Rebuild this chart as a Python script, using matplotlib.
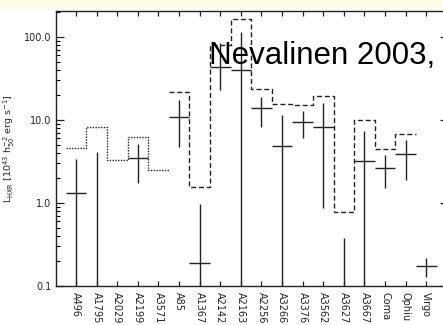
import numpy as np
import matplotlib
matplotlib.use('Agg')
import matplotlib.pyplot as plt
from matplotlib.patches import Rectangle
from matplotlib.ticker import FixedLocator, LogLocator, NullFormatter

# clusters along the x axis
clusters = ['A496', 'A1795', 'A2029', 'A2199', 'A3571', 'A85', 'A1367', 'A2142',
            'A2163', 'A2256', 'A3266', 'A3376', 'A3562', 'A3627', 'A3667',
            'Coma', 'Ophiu', 'Virgo']

# measured hard X-ray luminosity with upper / lower ends of the error bars
nan = np.nan
lum = [1.33, 0.05, nan, 3.46, nan, 10.8, 0.19, 43.9, 39.5, 13.8, 4.9, 9.5,
       8.2, 0.05, 3.2, 2.62, 3.86, 0.174]
lum_hi = [3.4, 4.15, nan, 5.14, nan, 17.4, 0.98, 85.0, 115.0, 19.0, 11.5, 12.9,
          15.9, 0.375, 7.3, 3.75, 5.74, 0.216]
lum_lo = [0.01, 0.01, nan, 1.76, nan, 4.69, 0.01, 23.0, 0.01, 8.3, 0.01, 6.0,
          0.88, 0.01, 0.01, 1.5, 1.87, 0.13]

# upper limits: dotted for the first five clusters, dashed for the rest
limit_dot = [4.6, 8.2, 3.3, 6.3, 2.5]
limit_dash = [21.9, 1.56, 80.0, 163.0, 23.5, 15.5, 15.2, 19.5, 0.78, 10.1, 4.47, 6.7]

fig = plt.figure(figsize=(4.43, 3.25), dpi=100)
fig.patches.append(Rectangle((0, 1 - 9 / 325), 1, 9 / 325, transform=fig.transFigure,
                             facecolor='#fcfce9', edgecolor='none', zorder=-10))
# the right-hand frame sits just past the edge of the figure
ax = fig.add_axes([55.5 / 443, 39 / 325, 393.0 / 443, 275 / 325])

ink = '#222222'
x = np.arange(len(clusters))

# step outlines of the upper limits
xd = np.arange(len(limit_dot) + 1) - 0.5
ax.step(xd, limit_dot + limit_dot[-1:], where='post', color=ink, lw=1.0,
        linestyle=(0, (1.0, 1.0)))
xs = np.arange(len(limit_dash) + 1) + len(limit_dot) - 0.5
ax.step(xs, limit_dash + limit_dash[-1:], where='post', color=ink, lw=1.0,
        linestyle=(0, (3.6, 2.0)))

# crosses
lum = np.array(lum)
yerr = np.vstack([lum - np.array(lum_lo), np.array(lum_hi) - lum])
ax.errorbar(x, lum, yerr=yerr, xerr=0.5, fmt='none', ecolor=ink, elinewidth=1.0,
            capsize=0)

ax.set_yscale('log')
ax.set_ylim(0.1, 205)
ax.set_xlim(-1, len(clusters) + 0.08)

ax.yaxis.set_major_locator(FixedLocator([0.1, 1, 10, 100]))
ax.set_yticklabels(['0.1', '1.0', '10.0', '100.0'])
ax.yaxis.set_minor_locator(LogLocator(base=10, subs=np.arange(2, 10)))
ax.yaxis.set_minor_formatter(NullFormatter())
ax.set_xticks(x)
ax.set_xticklabels(clusters, rotation=270, va='top', ha='center')

ax.tick_params(axis='y', which='major', direction='in', length=5.8, width=0.9,
               right=True, labelsize=7, pad=3, colors=ink)
ax.tick_params(axis='y', which='minor', direction='in', length=2.9, width=0.8,
               right=True)
ax.tick_params(axis='x', which='major', direction='in', length=3.6, width=0.9,
               top=True, labelsize=7, pad=4, colors=ink)
ax.tick_params(axis='x', which='minor', bottom=False, top=False)
for s in ax.spines.values():
    s.set_linewidth(1.0)
    s.set_color(ink)

ax.set_ylabel(r'L$_{\rm HXR}$ [10$^{43}$ h$_{50}^{-2}$ erg s$^{-1}$]', fontsize=6.8,
              color=ink)
ax.yaxis.set_label_coords(-0.098, 0.5)

fig.text(209 / 443, 1 - 64 / 325, 'Nevalinen 2003,', fontsize=22.5,
         family='Liberation Sans', va='baseline', ha='left', color='black', zorder=20)

fig.savefig('out.png', dpi=100)
